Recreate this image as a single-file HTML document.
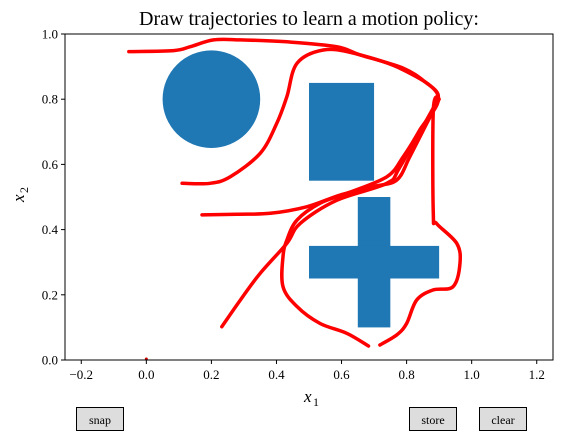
<!DOCTYPE html>
<html><head><meta charset="utf-8"><style>
body{margin:0;background:#fff;width:566px;height:445px;overflow:hidden;font-family:"Liberation Serif",serif}
.btn{position:absolute;top:407px;height:24px;border:1px solid #000;background:#ddd;font-size:12px;text-align:center;line-height:24px;box-sizing:border-box}
</style></head><body>
<svg width="566" height="445" style="position:absolute;left:0;top:0">
<g id="plot"></g>
</svg>
<div class="btn" style="left:76px;width:48px">snap</div>
<div class="btn" style="left:409px;width:48px">store</div>
<div class="btn" style="left:479px;width:48px">clear</div>
<script>
const xTicks=[-0.2,0,0.2,0.4,0.6,0.8,1.0,1.2];
const xTickLabels=["−0.2","0.0","0.2","0.4","0.6","0.8","1.0","1.2"];
const yTicks=[0,0.2,0.4,0.6,0.8,1.0];
const yTickLabels=["0.0","0.2","0.4","0.6","0.8","1.0"];
const traj1X=[-0.054,0.084,0.135,0.207,0.289,0.432,0.585,0.657,0.79,0.862,0.897,0.882,0.882,0.892,0.954,0.964,0.943,0.882,0.831,0.8,0.77,0.718];
const traj1Y=[0.946,0.949,0.961,0.982,0.982,0.976,0.961,0.936,0.895,0.849,0.813,0.767,0.45,0.419,0.358,0.297,0.225,0.215,0.184,0.112,0.077,0.046];
const traj2X=[0.11,0.196,0.258,0.35,0.401,0.432,0.463,0.544,0.637,0.79,0.897,0.841,0.79,0.739,0.616,0.534,0.463,0.432,0.42,0.42,0.463,0.534,0.616,0.683];
const traj2Y=[0.542,0.542,0.562,0.634,0.726,0.808,0.91,0.951,0.941,0.89,0.81,0.706,0.624,0.562,0.511,0.481,0.429,0.368,0.317,0.225,0.164,0.112,0.082,0.043];
const traj3X=[0.171,0.278,0.381,0.493,0.596,0.698,0.77,0.81,0.862,0.9];
const traj3Y=[0.445,0.447,0.45,0.47,0.506,0.532,0.552,0.624,0.726,0.8];
const traj4X=[0.897,0.78,0.739,0.585,0.473,0.432,0.35,0.289,0.232];
const traj4Y=[0.8,0.593,0.542,0.49,0.419,0.358,0.266,0.184,0.102];
const L=65,R=553,T=34,B=360,xmin=-0.25,xmax=1.25;
const sx=v=>L+(v-xmin)/(xmax-xmin)*(R-L), sy=v=>B-v*(B-T);
const g=document.getElementById('plot'),NS='http://www.w3.org/2000/svg';
function mk(t,a,txt){const e=document.createElementNS(NS,t);for(const k in a)e.setAttribute(k,a[k]);if(txt!==undefined)e.textContent=txt;g.appendChild(e);return e;}
function smooth(P){let d='M'+P[0][0].toFixed(1)+','+P[0][1].toFixed(1);
 for(let i=0;i<P.length-1;i++){const p0=P[Math.max(i-1,0)],p1=P[i],p2=P[i+1],p3=P[Math.min(i+2,P.length-1)];
  const c1=[p1[0]+(p2[0]-p0[0])/6,p1[1]+(p2[1]-p0[1])/6],c2=[p2[0]-(p3[0]-p1[0])/6,p2[1]-(p3[1]-p1[1])/6];
  d+='C'+c1.map(v=>v.toFixed(1))+' '+c2.map(v=>v.toFixed(1))+' '+p2.map(v=>v.toFixed(1));}
 return d;}
let e;
e=mk('circle',{cx:sx(0.2),cy:sy(0.8),r:sx(0.35)-sx(0.2),fill:'#1f77b4'});


e=mk('rect',{x:sx(0.5),y:sy(0.85),width:sx(0.7)-sx(0.5),height:sy(0.55)-sy(0.85),fill:'#1f77b4'});


e=mk('rect',{x:sx(0.65),y:sy(0.5),width:sx(0.75)-sx(0.65),height:sy(0.1)-sy(0.5),fill:'#1f77b4'});


e=mk('rect',{x:sx(0.5),y:sy(0.35),width:sx(0.9)-sx(0.5),height:sy(0.25)-sy(0.35),fill:'#1f77b4'});


[[traj1X,traj1Y],[traj2X,traj2Y],[traj3X,traj3Y],[traj4X,traj4Y]].forEach((t,i)=>{
 const P=t[0].map((v,j)=>[sx(v),sy(t[1][j])]);
 const p=mk('path',{d:smooth(P),fill:'none',stroke:'#f00','stroke-width':3.5,'stroke-linejoin':'round','stroke-linecap':'round'});
 
 
});
e=mk('circle',{cx:sx(0),cy:sy(0)-1,r:1.5,fill:'#c00'});


e=mk('rect',{x:L,y:T,width:R-L,height:B-T,fill:'none',stroke:'#000','stroke-width':1});


xTicks.forEach((v,i)=>{
 mk('line',{x1:sx(v),x2:sx(v),y1:B,y2:B+4,stroke:'#000'});
 const t=mk('text',{x:sx(v),y:B+19,'text-anchor':'middle','font-size':13},xTickLabels[i]);
 
 
});
yTicks.forEach((v,i)=>{
 mk('line',{x1:L-4,x2:L,y1:sy(v),y2:sy(v),stroke:'#000'});
 const t=mk('text',{x:L-7,y:sy(v)+4.5,'text-anchor':'end','font-size':13},yTickLabels[i]);
 
 
});
e=mk('text',{x:(L+R)/2,y:25,'text-anchor':'middle','font-size':20},'Draw trajectories to learn a motion policy:');


e=mk('text',{x:(L+R)/2-5,y:402,'font-size':17,'font-style':'italic'},'x');


mk('text',{x:(L+R)/2+4,y:406,'font-size':12},'1');
e=mk('text',{x:0,y:0,'font-size':17,'font-style':'italic',transform:'translate(24,202) rotate(-90)'},'x');


mk('text',{x:0,y:0,'font-size':12,transform:'translate(28,193) rotate(-90)'},'2');
</script>
</body></html>
